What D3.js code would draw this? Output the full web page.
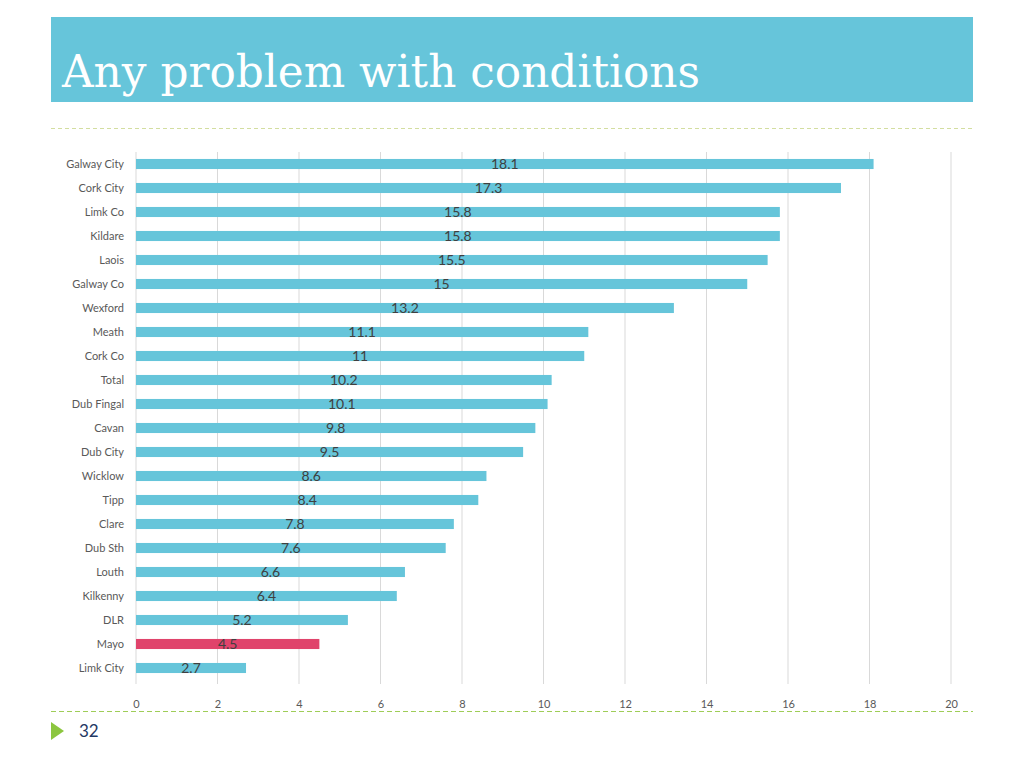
<!DOCTYPE html>
<html><head><meta charset="utf-8">
<script src="https://cdn.jsdelivr.net/npm/d3@7"></script>
<style>body{margin:0;background:#fff}svg{display:block}</style>
</head><body>
<script>
const categories = ["Galway City","Cork City","Limk Co","Kildare","Laois","Galway Co","Wexford","Meath","Cork Co","Total","Dub Fingal","Cavan","Dub City","Wicklow","Tipp","Clare","Dub Sth","Louth","Kilkenny","DLR","Mayo","Limk City"];
const values = [18.1,17.3,15.8,15.8,15.5,15,13.2,11.1,11,10.2,10.1,9.8,9.5,8.6,8.4,7.8,7.6,6.6,6.4,5.2,4.5,2.7];
const highlight = ["Mayo"];
const xTicks = [0,2,4,6,8,10,12,14,16,18,20];
const title = "Any problem with conditions";
const pageNum = "32";

const W=1024,H=768;
const svg=d3.select("body").append("svg").attr("width",W).attr("height",H);

svg.append("rect").attr("x",51).attr("y",17).attr("width",922).attr("height",85).attr("fill","#66c5da");
svg.append("text").attr("x",62).attr("y",87).attr("fill","#fff")
  .attr("font-family","DejaVu Serif, serif").attr("font-size",44)
  .attr("textLength",638).attr("lengthAdjust","spacingAndGlyphs").text(title);

svg.append("line").attr("x1",51).attr("x2",973).attr("y1",128.5).attr("y2",128.5)
  .attr("stroke","#d3dea0").attr("stroke-width",1).attr("stroke-dasharray","4,3");
svg.append("line").attr("x1",51).attr("x2",973).attr("y1",711.5).attr("y2",711.5)
  .attr("stroke","#9fcd58").attr("stroke-width",1).attr("stroke-dasharray","5,3");

svg.append("path").attr("d","M51,722 L64,731 L51,740 Z").attr("fill","#8cc63f");
svg.append("text").attr("x",79).attr("y",737).attr("fill","#1f3864")
  .attr("font-family","Lato, sans-serif").attr("font-size",17).text(pageNum);

const x=d3.scaleLinear().domain([0,20]).range([136,951]);
const y=d3.scaleBand().domain(categories).range([152,680]).paddingInner(0.58).paddingOuter(0.29);

const g=svg.append("g");
g.selectAll("line.grid").data(xTicks).join("line").attr("class","grid")
  .attr("x1",d=>x(d)).attr("x2",d=>x(d)).attr("y1",152).attr("y2",684)
  .attr("stroke","#d9d9d9").attr("stroke-width",1);

g.selectAll("rect.bar").data(categories).join("rect").attr("class","bar")
  .attr("x",x(0)).attr("y",d=>y(d)).attr("height",y.bandwidth())
  .attr("width",(d,i)=>x(values[i])-x(0))
  .attr("fill",d=>highlight.includes(d)?"#e0436b":"#66c5da");

g.selectAll("text.val").data(categories).join("text").attr("class","val")
  .attr("x",(d,i)=>x(values[i]/2)).attr("y",d=>y(d)+y.bandwidth()/2+5)
  .attr("text-anchor","middle").attr("fill","#404040")
  .attr("font-family","Lato, sans-serif").attr("font-size",14)
  .text((d,i)=>values[i]);

const yAxis=g.append("g").attr("transform",`translate(${x(0)-12},0)`)
  .call(d3.axisLeft(y).tickSize(0).tickPadding(0));
yAxis.select(".domain").remove();
yAxis.selectAll("text").attr("font-family","Lato, sans-serif").attr("font-size",11).attr("fill","#595959");

const xAxis=g.append("g").attr("transform","translate(0,696)")
  .call(d3.axisBottom(x).tickValues(xTicks).tickSize(0).tickPadding(4));
xAxis.select(".domain").remove();
xAxis.selectAll("text").attr("font-family","Lato, sans-serif").attr("font-size",11).attr("fill","#595959");
</script>
</body></html>
